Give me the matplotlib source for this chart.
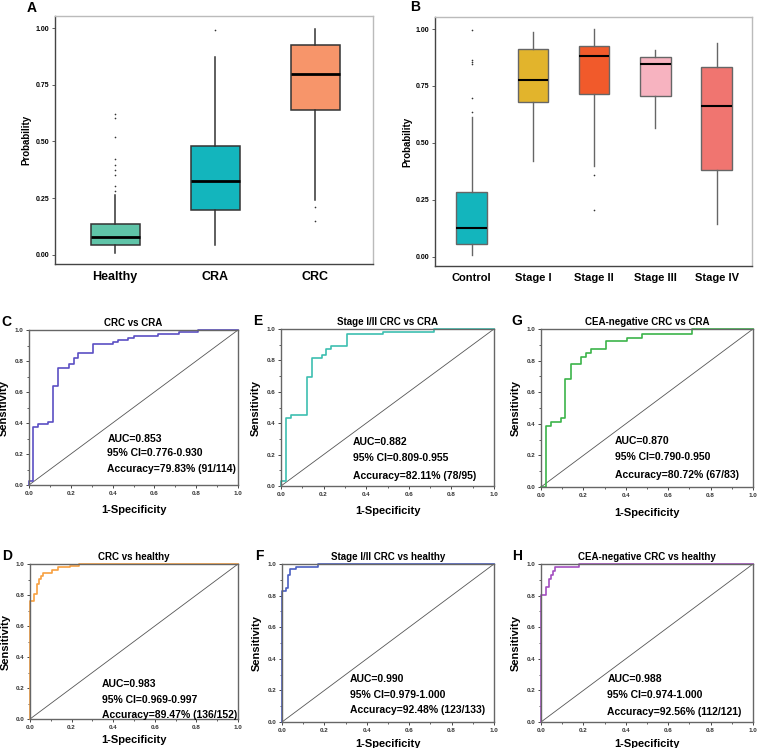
import matplotlib
matplotlib.use("Agg")
import matplotlib.pyplot as plt
from matplotlib.ticker import MultipleLocator

plt.rcParams['font.family'] = ['Liberation Sans', 'DejaVu Sans']
plt.rcParams['font.weight'] = 'bold'

# ---- dane: wykresy pudelkowe (A) ----
a_labels = ['Healthy', 'CRA', 'CRC']
a_colors = ['#5fc4a8', '#13b5bd', '#f7956a']
a_q1 = [0.041, 0.198, 0.638]
a_med = [0.078, 0.323, 0.796]
a_q3 = [0.136, 0.479, 0.924]
a_lo = [0.007, 0.044, 0.242]
a_hi = [0.264, 0.870, 0.995]
a_fliers = [[0.282, 0.305, 0.352, 0.374, 0.396, 0.421, 0.521, 0.601, 0.620],
            [0.990],
            [0.210, 0.147]]

# ---- dane: wykresy pudelkowe (B) ----
b_labels = ['Control', 'Stage I', 'Stage II', 'Stage III', 'Stage IV']
b_colors = ['#13b5bd', '#e2b42c', '#f15a2b', '#f7b3c0', '#f07570']
b_q1 = [0.056, 0.681, 0.714, 0.707, 0.382]
b_med = [0.124, 0.776, 0.881, 0.846, 0.660]
b_q3 = [0.286, 0.912, 0.927, 0.878, 0.835]
b_lo = [0.009, 0.422, 0.397, 0.566, 0.143]
b_hi = [0.615, 0.985, 0.999, 0.908, 0.937]
b_fliers = [[0.637, 0.695, 0.846, 0.857, 0.865, 0.996],
            [], [0.359, 0.205], [], []]

# ---- dane: krzywe ROC ----
c_fpr = [0, 0, 0.021, 0.042, 0.089, 0.113, 0.140, 0.191, 0.215, 0.236, 0.308,
         0.404, 0.427, 0.475, 0.502, 0.619, 0.718, 0.810, 1.0]
c_tpr = [0, 0.028, 0.376, 0.391, 0.404, 0.641, 0.753, 0.778, 0.822, 0.849, 0.908,
         0.920, 0.935, 0.946, 0.961, 0.974, 0.989, 1.0, 1.0]
e_fpr = [0, 0, 0.023, 0.047, 0.122, 0.146, 0.192, 0.213, 0.235, 0.310, 0.477, 0.717, 1.0]
e_tpr = [0, 0.034, 0.431, 0.452, 0.696, 0.813, 0.834, 0.870, 0.892, 0.966, 0.983, 1.0, 1.0]
g_fpr = [0, 0.022, 0.047, 0.094, 0.115, 0.142, 0.190, 0.214, 0.236, 0.308, 0.406, 0.476, 0.712, 1.0]
g_tpr = [0, 0.388, 0.409, 0.435, 0.681, 0.776, 0.825, 0.850, 0.873, 0.924, 0.945, 0.968, 1.0, 1.0]
d_fpr = [0, 0, 0.021, 0.032, 0.043, 0.051, 0.061, 0.104, 0.136, 0.192, 0.237, 1.0]
d_tpr = [0, 0.763, 0.806, 0.871, 0.903, 0.925, 0.942, 0.963, 0.978, 0.989, 1.0, 1.0]
f_fpr = [0, 0, 0.019, 0.028, 0.039, 0.066, 0.170, 1.0]
f_tpr = [0, 0.829, 0.850, 0.930, 0.966, 0.983, 1.0, 1.0]
h_fpr = [0, 0, 0.024, 0.036, 0.047, 0.056, 0.067, 0.180, 1.0]
h_tpr = [0, 0.802, 0.857, 0.905, 0.932, 0.954, 0.979, 1.0, 1.0]

roc_panels = [
    # litera, tytul, fpr, tpr, kolor, teksty, pozycja tekstu, prostokat w px
    ('C', 'CRC vs CRA', c_fpr, c_tpr, '#5b4fc4',
     ['AUC=0.853', '95% CI=0.776-0.930', 'Accuracy=79.83% (91/114)'],
     (0.375, [0.30, 0.205, 0.10]), (29, 330, 238, 485)),
    ('E', 'Stage I/II CRC vs CRA', e_fpr, e_tpr, '#3dbfb0',
     ['AUC=0.882', '95% CI=0.809-0.955', 'Accuracy=82.11% (78/95)'],
     (0.337, [0.283, 0.177, 0.064]), (281, 329, 494, 486)),
    ('G', 'CEA-negative CRC vs CRA', g_fpr, g_tpr, '#3cb44a',
     ['AUC=0.870', '95% CI=0.790-0.950', 'Accuracy=80.72% (67/83)'],
     (0.35, [0.294, 0.19, 0.079]), (541, 329, 753, 487)),
    ('D', 'CRC vs healthy', d_fpr, d_tpr, '#f7a040',
     ['AUC=0.983', '95% CI=0.969-0.997', 'Accuracy=89.47% (136/152)'],
     (0.344, [0.226, 0.125, 0.024]), (30, 564, 238, 719)),
    ('F', 'Stage I/II CRC vs healthy', f_fpr, f_tpr, '#4a5fc1',
     ['AUC=0.990', '95% CI=0.979-1.000', 'Accuracy=92.48% (123/133)'],
     (0.32, [0.275, 0.173, 0.074]), (282, 564, 494, 722)),
    ('H', 'CEA-negative CRC vs healthy', h_fpr, h_tpr, '#a34fc0',
     ['AUC=0.988', '95% CI=0.974-1.000', 'Accuracy=92.56% (112/121)'],
     (0.313, [0.274, 0.173, 0.063]), (541, 564, 753, 722)),
]

W, H = 758, 748
fig = plt.figure(figsize=(W / 100, H / 100), dpi=100)


def px_axes(x0, y0, x1, y1):
    return fig.add_axes([x0 / W, 1 - y1 / H, (x1 - x0) / W, (y1 - y0) / H])


def box_panel(ax, labels, colors, q1, med, q3, lo, hi, fliers, width, edge, lw, medlw, xfs):
    stats = []
    for i in range(len(labels)):
        stats.append({'label': labels[i], 'q1': q1[i], 'med': med[i], 'q3': q3[i],
                      'whislo': lo[i], 'whishi': hi[i], 'fliers': fliers[i]})
    bp = ax.bxp(stats, positions=range(1, len(labels) + 1), widths=width,
                patch_artist=True, showcaps=False,
                boxprops=dict(edgecolor=edge, linewidth=lw),
                whiskerprops=dict(color=edge, linewidth=lw),
                medianprops=dict(color='black', linewidth=medlw),
                flierprops=dict(marker='o', markersize=1.2, markerfacecolor='#333333',
                                markeredgecolor='none'))
    for patch, col in zip(bp['boxes'], colors):
        patch.set_facecolor(col)
    ax.set_xlim(0.4, len(labels) + 0.58)
    ax.set_ylim(-0.041, 1.053)
    ax.set_yticks([0, 0.25, 0.5, 0.75, 1.0])
    ax.set_yticklabels(['0.00', '0.25', '0.50', '0.75', '1.00'])
    ax.tick_params(axis='y', labelsize=5, length=2, width=0.6, color='#444444', pad=2)
    ax.tick_params(axis='x', labelsize=xfs, length=0, pad=5)
    ax.set_ylabel('Probability', fontsize=7, fontweight='bold')
    for s in ['left', 'bottom']:
        ax.spines[s].set_color('#444444')
        ax.spines[s].set_linewidth(1.0)
    for s in ['top', 'right']:
        ax.spines[s].set_color('#bbbbbb')
        ax.spines[s].set_linewidth(1.0)


# Panel A
axA = px_axes(55, 16, 373, 264)
box_panel(axA, a_labels, a_colors, a_q1, a_med, a_q3, a_lo, a_hi, a_fliers,
          0.49, '#333333', 1.1, 2.0, 9)
axA.yaxis.set_label_coords(-0.075, 0.5)
fig.text(32 / W, 1 - 8 / H, 'A', fontsize=10, fontweight='bold', ha='center', va='center')

# Panel B
axB = px_axes(435, 17, 752, 266)
box_panel(axB, b_labels, b_colors, b_q1, b_med, b_q3, b_lo, b_hi, b_fliers,
          0.5, '#666666', 1.0, 1.5, 8)
axB.yaxis.set_label_coords(-0.072, 0.5)
fig.text(415 / W, 1 - 7 / H, 'B', fontsize=10, fontweight='bold', ha='center', va='center')

# Krzywe ROC
for letter, title, fpr, tpr, col, lines, (tx, tys), rect in roc_panels:
    ax = px_axes(*rect)
    ax.plot([0, 1], [0, 1], color='#555555', linewidth=0.6)
    ax.plot(fpr, tpr, drawstyle='steps-post', color=col, linewidth=1.2, clip_on=False)
    ax.set_xlim(0, 1)
    ax.set_ylim(0, 1)
    ax.xaxis.set_major_locator(MultipleLocator(0.2))
    ax.yaxis.set_major_locator(MultipleLocator(0.2))
    ax.xaxis.set_minor_locator(MultipleLocator(0.1))
    ax.yaxis.set_minor_locator(MultipleLocator(0.1))
    ax.xaxis.set_major_formatter(lambda v, p: '%.1f' % v)
    ax.yaxis.set_major_formatter(lambda v, p: '%.1f' % v)
    ax.tick_params(which='major', labelsize=4.5, length=2.5, width=0.7,
                   color='#444444', labelcolor='#333333', pad=1.5)
    ax.tick_params(which='minor', length=1.5, width=0.6, color='#444444')
    for s in ax.spines.values():
        s.set_color('#666666')
        s.set_linewidth(1.0)
    ax.set_xlabel('1-Specificity', fontsize=8, fontweight='bold')
    ax.set_ylabel('Sensitivity', fontsize=8, fontweight='bold')
    if letter in 'DFH':
        ax.xaxis.set_label_coords(0.5, -0.105)
    else:
        ax.xaxis.set_label_coords(0.5, -0.13)
    ax.yaxis.set_label_coords(-0.095, 0.5)
    ax.set_title(title, fontsize=7, fontweight='bold', pad=3)
    for txt, ty in zip(lines, tys):
        ax.text(tx, ty, txt, fontsize=7.5, fontweight='bold', va='center', ha='left')
    lx = rect[0] - 23 if letter in 'CDEF' else rect[0] - 24
    fig.text(lx / W, 1 - (rect[1] - 8) / H, letter, fontsize=10, fontweight='bold',
             ha='center', va='center')

fig.savefig('out.png', dpi=100)
